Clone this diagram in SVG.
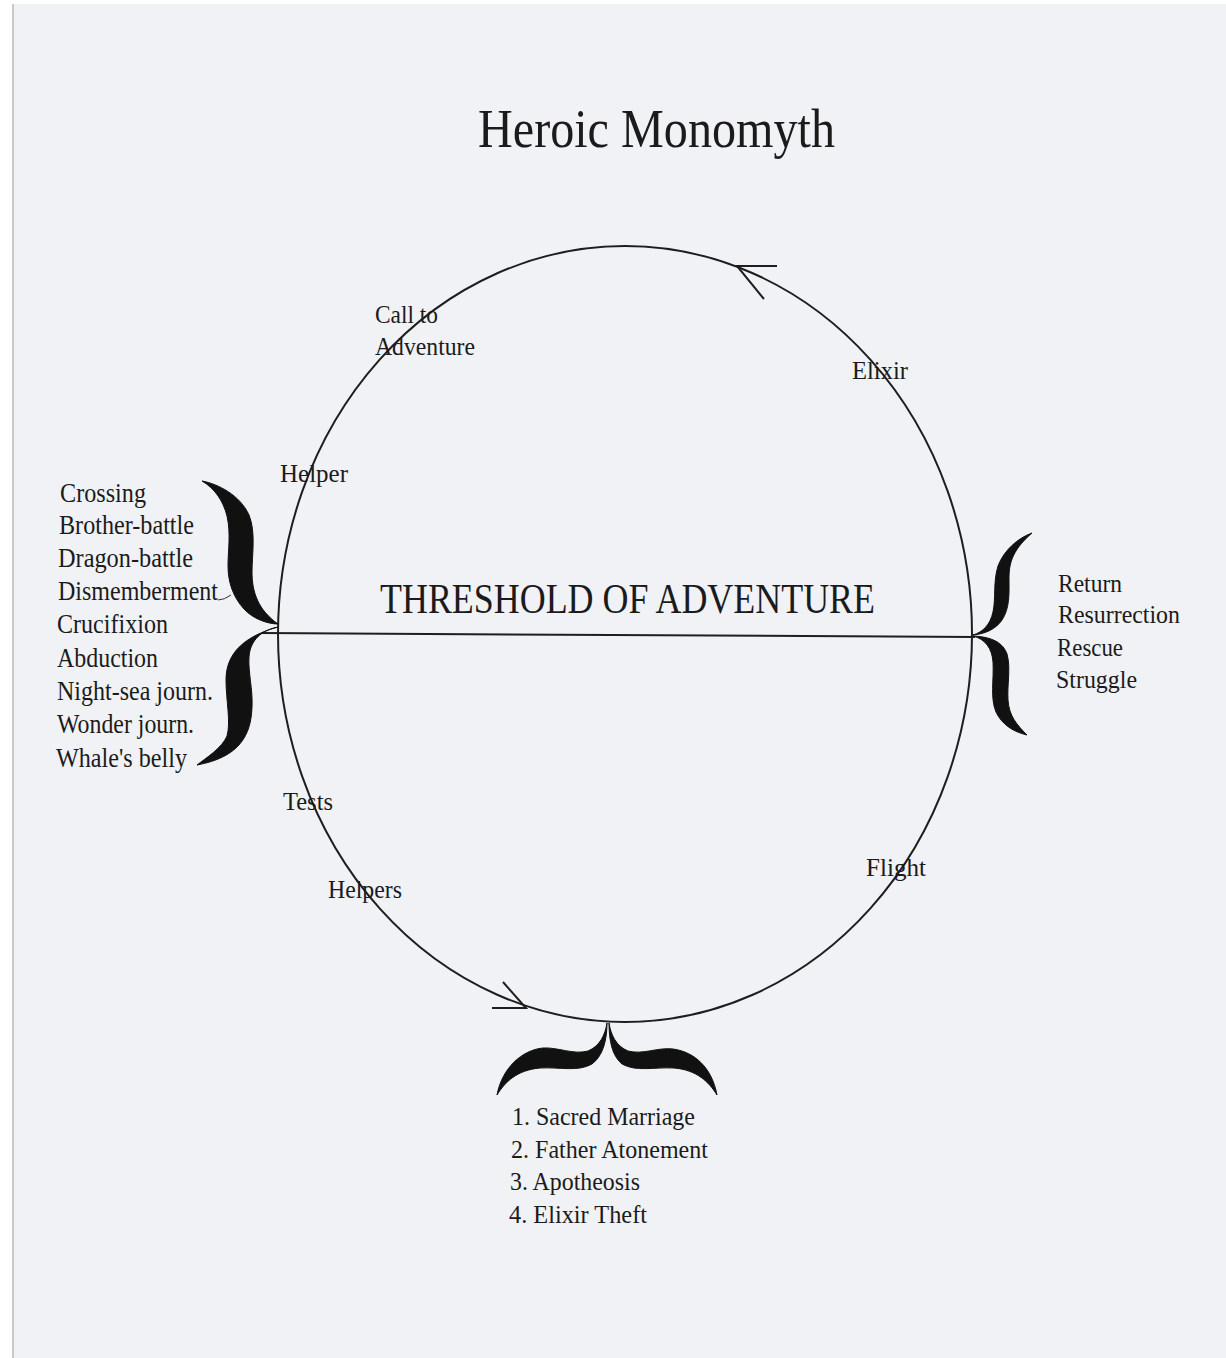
<svg xmlns="http://www.w3.org/2000/svg" width="1226" height="1358" viewBox="0 0 1226 1358">
<style>
text{font-family:"Liberation Serif","Times New Roman",serif;fill:#1b1b1b;}
.t26{font-size:26px;}
.t28{font-size:28px;}
.line{fill:none;stroke:#1e1e1e;stroke-width:2;}
.brace{fill:#111;stroke:#111;stroke-width:1;stroke-linejoin:round;}
</style>
<rect x="0" y="0" width="1226" height="1358" fill="#ffffff"/>
<rect x="13" y="4" width="1213" height="1354" fill="#f0f2f6"/>
<line x1="13" y1="4" x2="13" y2="1358" stroke="#b8b8bc" stroke-width="1.5"/>

<g id="title"><text x="478" y="147" font-size="55" textLength="357" lengthAdjust="spacingAndGlyphs">Heroic Monomyth</text></g>

<g id="connectors">
  <ellipse class="line" cx="625" cy="634" rx="347" ry="388"/>
  <line class="line" x1="262" y1="633" x2="975" y2="637"/>
  <path class="line" d="M777 266 L737 266 L764 299" stroke-linejoin="miter"/>
  <path class="line" d="M492 1008 L526 1008 L503 982" stroke-linejoin="miter"/>
  <path d="M218 600 Q224 600 231 595" fill="none" stroke="#333" stroke-width="1"/>
</g>

<g id="threshold"><text x="380" y="613" font-size="42" textLength="495" lengthAdjust="spacingAndGlyphs">THRESHOLD OF ADVENTURE</text></g>

<g id="left-brace">
  <path class="brace" d="M202 481 C218 484 240 495 249 515 C256 532 252 555 252 572 C252 592 258 610 278 624 C268 624 253 619 244 609 C233 597 228 582 228 566 C228 550 231 534 227 516 C223 500 214 488 202 481 Z"/>
  <path class="brace" d="M278 627 C262 630 250 640 249 657 C248 672 253 690 252 707 C251 735 240 757 197 765 C206 758 222 748 227 736 C231 722 226 700 226 680 C226 658 238 638 278 627 Z"/>
</g>
<g id="left-list">
  <text class="t28" x="60" y="502" textLength="86" lengthAdjust="spacingAndGlyphs">Crossing</text>
  <text class="t28" x="59" y="534" textLength="135" lengthAdjust="spacingAndGlyphs">Brother-battle</text>
  <text class="t28" x="58" y="567" textLength="135" lengthAdjust="spacingAndGlyphs">Dragon-battle</text>
  <text class="t28" x="58" y="600" textLength="160" lengthAdjust="spacingAndGlyphs">Dismemberment</text>
  <text class="t28" x="57" y="633" textLength="111" lengthAdjust="spacingAndGlyphs">Crucifixion</text>
  <text class="t28" x="57" y="667" textLength="101" lengthAdjust="spacingAndGlyphs">Abduction</text>
  <text class="t28" x="57" y="700" textLength="156" lengthAdjust="spacingAndGlyphs">Night-sea journ.</text>
  <text class="t28" x="57" y="733" textLength="137" lengthAdjust="spacingAndGlyphs">Wonder journ.</text>
  <text class="t28" x="56" y="767" textLength="131" lengthAdjust="spacingAndGlyphs">Whale's belly</text>
</g>

<g id="right-brace">
  <path class="brace" d="M1032 533 C1018 538 1004 550 998 566 C993 582 996 598 993 612 C990 625 983 632 973 635 C985 634 996 629 1002 620 C1010 608 1009 593 1009 580 C1009 566 1010 552 1032 533 Z"/>
  <path class="brace" d="M973 636 C985 639 992 648 993 662 C994 680 990 698 996 712 C1002 725 1014 732 1027 735 C1017 725 1009 716 1008 700 C1007 684 1011 668 1007 654 C1003 643 993 637 973 636 Z"/>
</g>
<g id="right-list">
  <text class="t26" x="1058" y="592" textLength="64" lengthAdjust="spacingAndGlyphs">Return</text>
  <text class="t26" x="1058" y="623" textLength="122" lengthAdjust="spacingAndGlyphs">Resurrection</text>
  <text class="t26" x="1057" y="656" textLength="66" lengthAdjust="spacingAndGlyphs">Rescue</text>
  <text class="t26" x="1056" y="688" textLength="81" lengthAdjust="spacingAndGlyphs">Struggle</text>
</g>

<g id="bottom-brace">
  <path class="brace" d="M607 1023 C605 1035 600 1046 588 1051 C573 1055 558 1047 543 1048 C522 1050 502 1068 497 1095 C505 1082 517 1070 540 1068 C560 1067 578 1072 592 1064 C603 1056 607 1040 607 1023 Z"/>
  <path class="brace" d="M609 1023 C611 1035 616 1046 628 1051 C643 1055 658 1047 673 1049 C695 1052 712 1068 717 1095 C709 1082 697 1070 674 1068 C654 1067 636 1072 622 1064 C612 1056 609 1040 609 1023 Z"/>
</g>
<g id="bottom-list">
  <text class="t26" x="512" y="1125" textLength="183" lengthAdjust="spacingAndGlyphs">1. Sacred Marriage</text>
  <text class="t26" x="511" y="1158" textLength="197" lengthAdjust="spacingAndGlyphs">2. Father Atonement</text>
  <text class="t26" x="510" y="1190" textLength="130" lengthAdjust="spacingAndGlyphs">3. Apotheosis</text>
  <text class="t26" x="509" y="1223" textLength="138" lengthAdjust="spacingAndGlyphs">4. Elixir Theft</text>
</g>

<g id="call-to-adventure">
  <text class="t26" x="375" y="323" textLength="63" lengthAdjust="spacingAndGlyphs">Call to</text>
  <text class="t26" x="375" y="355" textLength="100" lengthAdjust="spacingAndGlyphs">Adventure</text>
</g>
<g id="elixir"><text class="t26" x="852" y="379" textLength="56" lengthAdjust="spacingAndGlyphs">Elixir</text></g>
<g id="helper"><text class="t26" x="280" y="482" textLength="68" lengthAdjust="spacingAndGlyphs">Helper</text></g>
<g id="tests"><text class="t26" x="283" y="810" textLength="50" lengthAdjust="spacingAndGlyphs">Tests</text></g>
<g id="helpers"><text class="t26" x="328" y="898" textLength="74" lengthAdjust="spacingAndGlyphs">Helpers</text></g>
<g id="flight"><text class="t26" x="866" y="876" textLength="60" lengthAdjust="spacingAndGlyphs">Flight</text></g>
</svg>
